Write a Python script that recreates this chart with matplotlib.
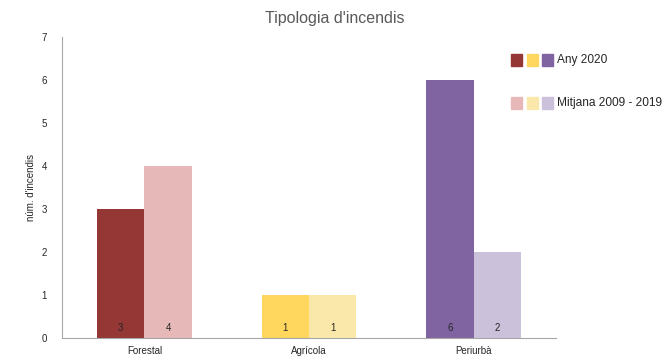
import matplotlib
matplotlib.use("Agg")
import matplotlib.pyplot as plt
from matplotlib.patches import Rectangle
import numpy as np

plt.rcParams['font.family'] = ['Liberation Sans', 'DejaVu Sans']

categories = ["Forestal", "Agrícola", "Periurbà"]
any_2020 = [3, 1, 6]
mitjana = [4, 1, 2]
colors_2020 = ["#953735", "#FFD75E", "#8064A2"]
colors_mitjana = ["#E6B9B8", "#F9E8A9", "#CCC1DA"]
series_labels = ["Any 2020", "Mitjana 2009 - 2019"]
title = "Tipologia d'incendis"
ylabel = "núm. d'incendis"

W, H = 671, 361
fig = plt.figure(figsize=(W/100, H/100), dpi=100)
ax = fig.add_axes([62/W, 1-338/H, (556-62)/W, (338-37)/H])

x = np.arange(len(categories))
bw = 0.288
ax.bar(x - bw/2, any_2020, bw, color=colors_2020)
ax.bar(x + bw/2, mitjana, bw, color=colors_mitjana)
for xi, v in zip(x - bw/2, any_2020):
    ax.text(xi, 0.24, str(v), ha='center', va='center', fontsize=7, color='#262626')
for xi, v in zip(x + bw/2, mitjana):
    ax.text(xi, 0.24, str(v), ha='center', va='center', fontsize=7, color='#262626')

ax.set_xlim(-0.5, 2.5)
ax.set_ylim(0, 7)
ax.set_yticks(range(0, 8))
ax.set_xticks(x)
ax.set_xticklabels(categories, fontsize=7, color='#262626')
ax.tick_params(axis='y', length=0, labelsize=7, labelcolor='#262626', pad=11)
ax.tick_params(axis='x', length=0, pad=6)
for s in ['top', 'right']:
    ax.spines[s].set_visible(False)
ax.spines['left'].set_color('#A6A6A6')
ax.spines['bottom'].set_color('#A6A6A6')
ax.set_ylabel(ylabel, fontsize=7, color='#262626', labelpad=4)

fig.text(335/W, 1-18/H, title, ha='center', va='center', fontsize=11.5, color='#595959')

# legend
sq = 11
rows_y = [60, 103]
sq_x = [511, 527, 542]
for row, (ycen, cols, lab) in enumerate(zip(rows_y, [colors_2020, colors_mitjana], series_labels)):
    for sx, c in zip(sq_x, cols):
        fig.patches.append(Rectangle((sx/W, 1-(ycen+sq/2)/H), sq/W, sq/H,
                                     transform=fig.transFigure, color=c))
    fig.text(557/W, 1-ycen/H, lab, ha='left', va='center', fontsize=8.6, color='#262626')

fig.savefig("out.png", dpi=100)
